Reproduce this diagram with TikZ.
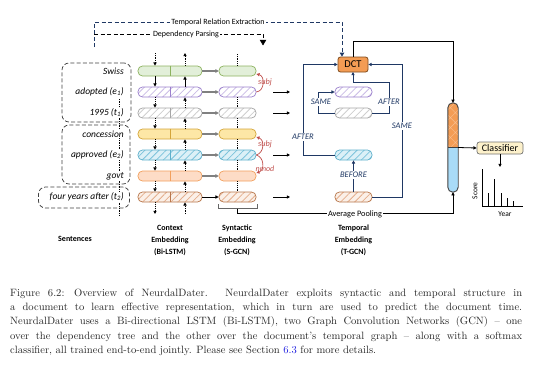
\documentclass[tikz,border=0pt]{standalone}
\usepackage{fontspec}
\newfontfamily\dfont{Carlito}
\usetikzlibrary{arrows.meta,patterns.meta,calc}
\definecolor{navy}{HTML}{1F3864}
\definecolor{redl}{HTML}{C0504D}
\definecolor{grnF}{HTML}{E2EFD9}\definecolor{grnB}{HTML}{8DB360}
\definecolor{purB}{HTML}{9B80CC}\definecolor{purL}{HTML}{C9BBE6}
\definecolor{gryB}{HTML}{A6A6A6}\definecolor{gryL}{HTML}{CFCFCF}
\definecolor{ylwF}{HTML}{FDE7A6}\definecolor{ylwB}{HTML}{D4A53A}
\definecolor{bluF}{HTML}{DCF0F7}\definecolor{bluB}{HTML}{5EB0CB}\definecolor{bluL}{HTML}{7CC3DB}
\definecolor{orgF}{HTML}{FDDCC6}\definecolor{orgB}{HTML}{F2A05E}
\definecolor{brnF}{HTML}{FBF0E8}\definecolor{brnB}{HTML}{B8774C}\definecolor{brnL}{HTML}{E4AE8C}
\definecolor{dctF}{HTML}{F39C54}\definecolor{dctB}{HTML}{7F4A1C}
\definecolor{colB}{HTML}{A9DBF7}
\definecolor{clsF}{HTML}{FDF1CB}
\definecolor{capblue}{HTML}{2020E0}
\tikzset{
  tip/.style={-{Triangle[length=3.2pt,width=3.2pt]}},
  bar/.style={rounded corners=4.5pt, minimum height=10pt, inner sep=0pt, line width=0.7pt},
  ctx/.style={bar, minimum width=64pt},
  syn/.style={bar, minimum width=37pt},
  hatchp/.style={preaction={fill=#1}, pattern={Lines[angle=45,distance=5pt,line width=0.8pt]}},
  rA/.style={draw=grnB, fill=grnF},
  rB/.style={draw=purB, hatchp=white, pattern color=purL},
  rC/.style={draw=gryB, hatchp=white, pattern color=gryL},
  rD/.style={draw=ylwB, fill=ylwF},
  rE/.style={draw=bluB, hatchp=bluF, pattern color=bluL},
  rF/.style={draw=orgB, fill=orgF},
  rG/.style={draw=brnB, hatchp=brnF, pattern color=brnL},
  sentbox/.style={draw=black!75, dash pattern=on 4pt off 2.2pt, line width=0.75pt, rounded corners=7pt, inner sep=0pt},
  word/.style={font=\dfont\itshape\fontsize{9.5}{10}\selectfont, anchor=east, inner sep=1pt},
  vdot/.style={densely dotted, line width=0.8pt},
  gcon/.style={draw=black!50, line width=1.3pt, -{Triangle[length=3.2pt,width=3.6pt]}},
  tlab/.style={font=\dfont\itshape\fontsize{8.5}{9}\selectfont, text=navy, fill=white, inner sep=1pt},
  tedge/.style={draw=navy, line width=0.8pt, tip},
  rlab/.style={font=\dfont\itshape\fontsize{8.3}{9}\selectfont, text=redl, inner sep=0.5pt},
  redge/.style={draw=redl, line width=0.7pt, tip},
  blab/.style={font=\dfont\bfseries\fontsize{8}{12}\selectfont, align=center},
}
\begin{document}
\begin{tikzpicture}[x=1pt,y=-1pt]
\useasboundingbox (0,0) rectangle (552,380);

% ---------- sentences ----------
\node[sentbox, minimum width=69pt, minimum height=59pt] (sb1) at (96.5,92.5) {};
\node[sentbox, minimum width=68pt, minimum height=59pt] (sb2) at (96,154.5) {};
\node[sentbox, minimum width=91pt, minimum height=21pt] (sb3) at (84,197.5) {};
\draw[vdot, line width=0.7pt] (119,99) -- (119,215);
\node[word, fill=white] (w1) at (125,71) {Swiss};
\node[word, fill=white] (w2) at (125,92) {adopted (e\textsubscript{1})};
\node[word, fill=white] (w3) at (125,113) {1995 (t\textsubscript{1})};
\node[word, fill=white] (w4) at (125,134) {concession};
\node[word, fill=white] (w5) at (125,155) {approved (e\textsubscript{2})};
\node[word, fill=white] (w6) at (125,176) {govt};
\node[word, fill=white] (w7) at (125,197) {four years after (t\textsubscript{2})};

% ---------- bars ----------
\foreach \i/\y/\s/\b in {1/71/rA/grnB,2/92/rB/purB,3/113/rC/gryB,4/134/rD/ylwB,5/155/rE/bluB,6/176/rF/orgB,7/197/rG/brnB}{
  \node[ctx,\s] (c\i) at (170,\y) {};
  \draw[\b, line width=0.7pt] (c\i.north) -- (c\i.south);
  \node[syn,\s] (g\i) at (237.5,\y) {};
}
\foreach \i in {1,...,6}{ \draw[gcon] (c\i) -- (g\i); }
\draw[line width=0.8pt, tip] (c7) -- (g7);

% Bi-LSTM vertical arrows
\draw[vdot, tip] (155,53) -- (c1.north -| 155,0);
\draw[vdot, tip] (c1.north -| 185,0) -- (185,53);
\draw[line width=0.8pt, tip] (c1.south -| 155,0) -- (c2.north -| 155,0);
\draw[line width=0.8pt, tip] (c2.north -| 185,0) -- (c1.south -| 185,0);
\foreach \i/\j in {2/3,3/4,4/5,5/6,6/7}{
  \draw[vdot, tip] (c\i.south -| 155,0) -- (c\j.north -| 155,0);
  \draw[vdot, tip] (c\j.north -| 185,0) -- (c\i.south -| 185,0);
}
\draw[vdot, tip] (c7.south -| 155,0) -- (155,214);
\draw[vdot, tip] (185,214) -- (c7.south -| 185,0);

% S-GCN dotted
\draw[vdot] (237.5,54) -- (g1.north);
\foreach \i/\j in {2/3,3/4,4/5,5/6,6/7}{ \draw[vdot] (g\i.south) -- (g\j.north); }

% dependency arcs
\draw[redge] (g2.east) .. controls (265,91) and (265,76) .. ([yshift=-3pt]g1.east);
\node[rlab] (l1) at (265,82) {subj};
\draw[redge] (g5.east) .. controls (264,153) and (265,140) .. ([yshift=-3pt]g4.east);
\node[rlab] (l2) at (265,144.5) {subj};
\draw[redge] (g5.east) .. controls (264,157) and (265,170) .. ([yshift=3pt]g6.east);
\node[rlab, font=\dfont\itshape\fontsize{8}{9}\selectfont] (l3) at (265,168.5) {nmod};

% S-GCN -> T-GCN arrows
\foreach \y in {92,113,155,197}{
  \coordinate (a\y) at (273,\y); \coordinate (b\y) at (290,\y);
  \draw[line width=0.8pt, tip] (a\y) -- (b\y);
}

% ---------- top dashed lines ----------
\coordinate (d0) at (94,47);
\node[draw=dctB, fill=dctF, rounded corners=2.5pt, minimum width=30pt, minimum height=15pt, inner sep=0pt, line width=0.8pt, font=\dfont\fontsize{10.5}{11}\selectfont] (dct) at (353,64.5) {DCT};
\draw[navy, line width=0.8pt, dash pattern=on 4pt off 2.5pt, -{Triangle[length=4pt,width=4.5pt]}] (d0) |- (342,22) -- ([xshift=-11pt]dct.north);
\node[font=\dfont\fontsize{8}{9}\selectfont, fill=white, inner sep=1pt] (tre) at (218,22) {Temporal Relation Extraction};
\coordinate (dp0) at (94,34);
\draw[black, line width=0.8pt, dash pattern=on 4pt off 2.5pt] (dp0) -- (263,34) -- (263,40);
\draw[fill=black] (260,40) -- (266,40) -- (263,45) -- cycle;
\node[font=\dfont\fontsize{8}{9}\selectfont, fill=white, inner sep=1pt] (dpl) at (186,34) {Dependency Parsing};

% ---------- T-GCN ----------
\node[syn,rB] (t2) at (353.5,92) {};
\node[syn,rC] (t3) at (353.5,113) {};
\node[syn,rE] (t5) at (353.5,155) {};
\node[syn,rG] (t7) at (353.5,197) {};
\draw[tedge] (t3.west) -- (318,113) -- (318,92) -- (t2.west);
\node[tlab] (q1) at (321,102) {SAME};
\draw[tedge] (t3.east) -- (389,113) -- (389,82) -- (353,82) -- (353,72);
\node[tlab] (q2) at (389,102) {AFTER};
\draw[tedge] (t7.east) -- (402,197) -- (402,64.5) -- (dct.east);
\node[tlab] (q3) at (402,126) {SAME};
\draw[tedge] (t5.west) -- (303,155) -- (303,64.5) -- (dct.west);
\node[tlab] (q4) at (303,137) {AFTER};
\draw[tedge] (t7.north) -- (t5.south);
\node[tlab] (q5) at (353.5,175) {BEFORE};

% ---------- document column ----------
\node[minimum width=10pt, minimum height=89pt, inner sep=0pt] (doc) at (453,147.5) {};
\begin{scope}
  \clip[rounded corners=5pt] (doc.south west) rectangle (doc.north east);
  \fill[dctF] (doc.north west) rectangle (doc.east);
  \fill[pattern={Hatch[angle=45,distance=7pt,line width=0.4pt]}, pattern color=white!35!dctF] (doc.north west) rectangle (doc.east);
  \fill[colB] (doc.west) rectangle (doc.south east);
\end{scope}
\draw[black!75, line width=0.9pt, rounded corners=5pt] (doc.south west) rectangle (doc.north east);
\draw[black!75, line width=0.8pt] (doc.west) -- (doc.east);

\draw[line width=0.8pt, tip] (dct.north) -- (353,41) -- (453,41) -- (doc.north);

% average pooling
\coordinate (br1) at (218,204);
\coordinate (br2) at (257,204);
\draw[black!60, line width=0.8pt] (br1) -- (218,208.5) -- (257,208.5) -- (br2);
\draw[line width=0.8pt, tip] (237.5,208.5) -- (237.5,213) -- (453,213) -- (doc.south);
\node[font=\dfont\fontsize{8.3}{9}\selectfont, fill=white, inner sep=1pt] (avp) at (355,214) {Average Pooling};

% classifier
\node[draw=black!55, fill=clsF, rounded corners=2.5pt, minimum width=46pt, minimum height=12pt, inner sep=0pt, line width=0.7pt, font=\dfont\fontsize{10}{11}\selectfont] (cls) at (500,148) {Classifier};
\draw[line width=0.8pt, tip] (doc.east) -- (cls.west);
\coordinate (chtop) at (500,167);
\draw[line width=0.8pt, tip] (cls.south) -- (chtop);

% chart
\draw[line width=0.8pt] (482,169) -- (482,206) -- (523,206);
\foreach \x/\h in {488/193,494/179,501/193,507/198,513/201}{ \draw[line width=0.8pt] (\x,206) -- (\x,\h); }
\node[font=\dfont\fontsize{7.5}{8}\selectfont, rotate=90] (scl) at (475,191) {Score};
\node[font=\dfont\fontsize{7.5}{8}\selectfont] (yrl) at (505,214.5) {Year};

% bottom labels
\node[blab] (L1) at (75,239) {Sentences};
\node[blab] (L2) at (170,240) {Context\\Embedding\\(Bi-LSTM)};
\node[blab] (L3) at (237,240) {Syntactic\\Embedding\\(S-GCN)};
\node[blab] (L4) at (353.5,240) {Temporal\\Embedding\\(T-GCN)};

% caption
\node[anchor=north west, inner sep=0pt, text width=512pt, align=justify, text=black!85, font=\fontsize{10.6}{14.3}\selectfont] (cap) at (10,288.5) {Figure 6.2:\hspace{0.9em}Overview of NeurdalDater. NeurdalDater exploits syntactic and temporal structure in\linebreak a document to learn effective representation, which in turn are used to predict the document time.\linebreak NeurdalDater uses a Bi-directional LSTM (Bi-LSTM), two Graph Convolution Networks (GCN) -- one\linebreak over the dependency tree and the other over the document's temporal graph -- along with a softmax\linebreak classifier, all trained end-to-end jointly. Please see Section {\color{capblue}6.3} for more details.};
\end{tikzpicture}
\end{document}
